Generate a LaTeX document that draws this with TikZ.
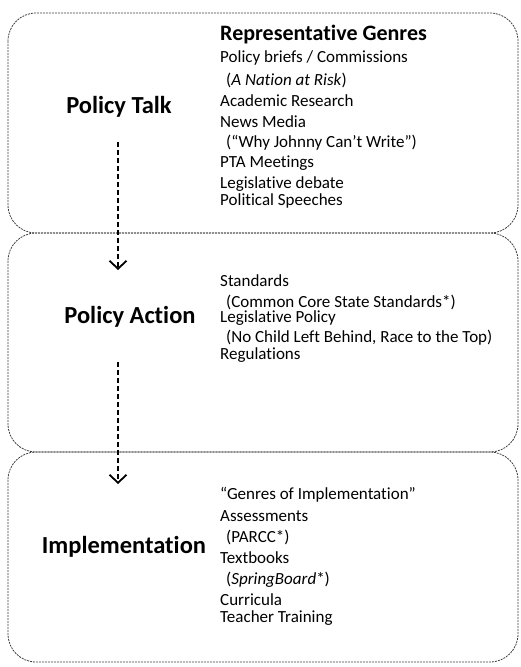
\documentclass[tikz,border=0pt]{standalone}
\usepackage{fontspec}
\setmainfont{Carlito}[Ligatures=NoCommon]
\usetikzlibrary{arrows.meta}
\begin{document}
\begin{tikzpicture}[x=1pt,y=-1pt,
  stage/.style={draw=black!75, line width=0.8pt, dash pattern=on 2pt off 1pt, rounded corners=28pt},
  title/.style={font=\fontsize{24.5}{28}\selectfont\bfseries, anchor=center, inner sep=0pt},
  head/.style={font=\fontsize{22}{25}\selectfont\bfseries, anchor=west, inner sep=0pt},
  item/.style={font=\fontsize{17}{20}\selectfont, anchor=west, inner sep=0pt},
  flow/.style={line width=2.2pt, dash pattern=on 5pt off 3pt, -{Straight Barb[length=8pt,width=17pt,line width=1.8pt]}}
]
\useasboundingbox (0,0) rectangle (520,667);
\draw[stage] (8,13) rectangle (518,233);
\draw[stage] (8,233) rectangle (518,452);
\draw[stage] (8,452) rectangle (518,662);

% box 1
\node[title] (pt) at (119,107) {Policy Talk};
\node[head] (rg) at (220,35) {Representative Genres};
\node[item] (i1) at (220,58) {Policy briefs / Commissions};
\node[item] (i2) at (226,80) {(\textit{A Nation at Risk})};
\node[item] (i3) at (220,101) {Academic Research};
\node[item] (i4) at (220,122) {News Media};
\node[item] (i5) at (226,143) {(“Why Johnny Can’t Write”)};
\node[item] (i6) at (220,163) {PTA Meetings};
\node[item] (i7) at (220,184) {Legislative debate};
\node[item] (i8) at (220,201) {Political Speeches};

% box 2
\node[title] (pa) at (130,317) {Policy Action};
\node[item] (j1) at (220,281) {Standards};
\node[item] (j2) at (226,302) {(Common Core State Standards*)};
\node[item] (j3) at (220,318) {Legislative Policy};
\node[item] (j4) at (226,338) {(No Child Left Behind, Race to the Top)};
\node[item] (j5) at (220,355) {Regulations};

% box 3
\node[title] (im) at (124,547) {Implementation};
\node[item] (k1) at (220,495) {“Genres of Implementation”};
\node[item] (k2) at (220,516) {Assessments};
\node[item] (k3) at (226,537) {(PARCC*)};
\node[item] (k4) at (220,558) {Textbooks};
\node[item] (k5) at (226,580) {(\textit{SpringBoard}*)};
\node[item] (k6) at (220,600) {Curricula};
\node[item] (k7) at (220,618) {Teacher Training};

\coordinate (a1s) at (118,142);
\coordinate (a1e) at (118,270);
\coordinate (a2s) at (118,362);
\coordinate (a2e) at (118,484);
\draw[flow] (a1s) -- (a1e);
\draw[flow] (a2s) -- (a2e);
\end{tikzpicture}
\end{document}
